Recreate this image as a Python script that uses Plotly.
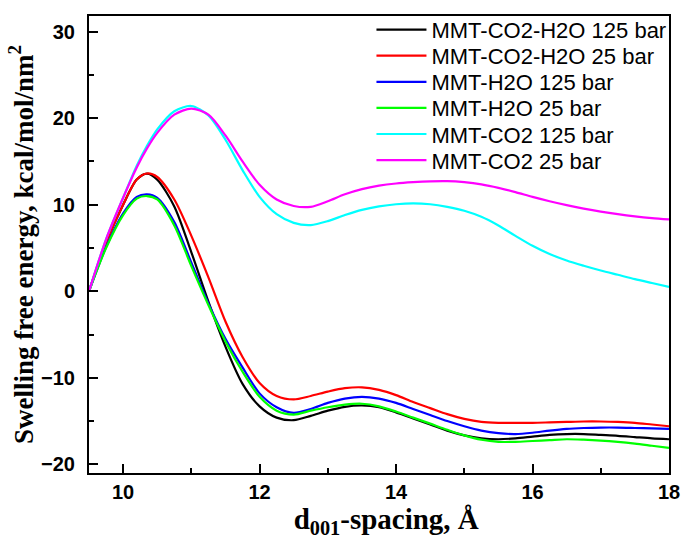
import plotly.graph_objects as go

x = [9.5, 9.75, 10.0, 10.2, 10.35, 10.5, 10.75, 11.0, 11.25, 11.5, 11.75, 12.0, 12.25, 12.5,
     12.75, 13.0, 13.25, 13.5, 13.75, 14.0, 14.25, 14.5, 14.75, 15.0, 15.25, 15.5, 15.75,
     16.0, 16.25, 16.5, 16.75, 17.0, 17.25, 17.5, 17.75, 18.0]

co2_h2o_125 = [0, 5.6, 10.0, 12.9, 13.6, 12.9, 9.8, 4.5, -1.2, -6.4, -10.7, -13.3, -14.6, -14.9,
               -14.4, -13.8, -13.35, -13.2, -13.4, -14.0, -14.7, -15.4, -16.1, -16.65, -17.0, -17.1, -17.0,
               -16.8, -16.6, -16.5, -16.5, -16.6, -16.7, -16.85, -17.0, -17.1]
co2_h2o_25 = [0, 5.6, 10.0, 12.9, 13.6, 13.2, 10.6, 6.4, 1.6, -3.5, -7.6, -10.6, -12.1, -12.5,
              -12.1, -11.6, -11.2, -11.1, -11.4, -12.0, -12.8, -13.5, -14.2, -14.75, -15.1, -15.2, -15.2,
              -15.2, -15.15, -15.1, -15.05, -15.05, -15.1, -15.2, -15.4, -15.6]
h2o_125 = [0, 5.1, 9.0, 10.9, 11.2, 10.8, 8.0, 3.3, -1.4, -5.5, -8.8, -11.8, -13.4, -14.05,
           -13.6, -12.9, -12.4, -12.2, -12.4, -12.9, -13.6, -14.3, -15.0, -15.6, -16.1, -16.4, -16.5,
           -16.35, -16.1, -15.9, -15.8, -15.75, -15.75, -15.8, -15.85, -15.9]
h2o_25 = [0, 5.0, 8.8, 10.7, 11.0, 10.6, 7.6, 2.9, -1.6, -5.8, -9.3, -12.2, -13.8, -14.25,
          -13.8, -13.4, -13.1, -13.0, -13.3, -13.9, -14.6, -15.3, -16.0, -16.65, -17.15, -17.4, -17.4,
          -17.3, -17.2, -17.1, -17.15, -17.25, -17.4, -17.6, -17.85, -18.1]
co2_125 = [0, 6.0, 10.8, 14.5, 16.8, 18.7, 20.8, 21.4, 20.3, 17.5, 14.0, 10.9, 8.9, 7.9,
           7.65, 8.1, 8.8, 9.4, 9.8, 10.05, 10.15, 10.05, 9.75, 9.3, 8.6, 7.6, 6.4,
           5.25, 4.3, 3.55, 2.95, 2.4, 1.9, 1.4, 0.95, 0.5]
co2_25 = [0, 6.0, 10.8, 14.3, 16.5, 18.3, 20.4, 21.1, 20.4, 18.0, 15.0, 12.3, 10.6, 9.85,
          9.75, 10.4, 11.2, 11.8, 12.2, 12.45, 12.6, 12.7, 12.72, 12.6, 12.35, 11.95, 11.45,
          10.9, 10.4, 9.95, 9.55, 9.2, 8.9, 8.65, 8.45, 8.3]

names = ["MMT-CO2-H2O 125 bar", "MMT-CO2-H2O 25 bar", "MMT-H2O 125 bar",
         "MMT-H2O 25 bar", "MMT-CO2 125 bar", "MMT-CO2 25 bar"]
series = [co2_h2o_125, co2_h2o_25, h2o_125, h2o_25, co2_125, co2_25]
colors = ["#000000", "#ff0000", "#0000ff", "#00ff00", "#00ffff", "#ff00ff"]

sans = "Arial, Liberation Sans, sans-serif"
serif = "Times New Roman, Liberation Serif, serif"

fig = go.Figure()
legend_layout = {}
for i, (n, s, c) in enumerate(zip(names, series, colors)):
    key = "legend" if i == 0 else f"legend{i + 1}"
    fig.add_trace(go.Scatter(x=x, y=s, name=n, mode="lines", legend=key,
                             line=dict(color=c, width=2.2, shape="spline", smoothing=0.8)))
    py = 23 + i * 26.5
    legend_layout[key] = dict(x=0.487, y=1 - (py - 9) / 464, xanchor="left", yanchor="middle",
                              bgcolor="rgba(0,0,0,0)", borderwidth=0,
                              font=dict(family=sans, size=22, color="#000"),
                              itemwidth=50)

fig.update_layout(
    width=689, height=548,
    margin=dict(l=89, r=14, t=9, b=75),
    paper_bgcolor="white", plot_bgcolor="white",
    showlegend=True,
    **legend_layout,
)
fig.update_xaxes(
    range=[9.5, 18], tickvals=[10, 12, 14, 16, 18],
    showline=True, mirror=True, linecolor="black", linewidth=2,
    ticks="inside", ticklen=9, tickwidth=1.5, tickcolor="black",
    minor=dict(tickvals=[11, 13, 15, 17], ticks="inside", ticklen=5, tickwidth=1.5, tickcolor="black"),
    showgrid=False, zeroline=False,
    tickfont=dict(family=sans, size=20, color="#000", weight="bold"),
    title=dict(text="&nbsp;&nbsp;<b>d<sub>001</sub>-spacing, Å</b>", font=dict(family=serif, size=29, color="#000"), standoff=5),
)
fig.update_yaxes(
    range=[-21, 31.8], tickvals=[-20, -10, 0, 10, 20, 30],
    showline=True, mirror=True, linecolor="black", linewidth=2,
    ticks="inside", ticklen=9, tickwidth=1.5, tickcolor="black",
    minor=dict(tickvals=[-15, -5, 5, 15, 25], ticks="inside", ticklen=5, tickwidth=1.5, tickcolor="black"),
    showgrid=False, zeroline=False,
    tickfont=dict(family=sans, size=20, color="#000", weight="bold"),
    ticklabelstandoff=8,
    title=dict(text="<b>Swelling free energy, kcal/mol/nm<sup>2</sup></b>", font=dict(family=serif, size=27, color="#000"), standoff=0),
)

fig.write_html("out.html")
